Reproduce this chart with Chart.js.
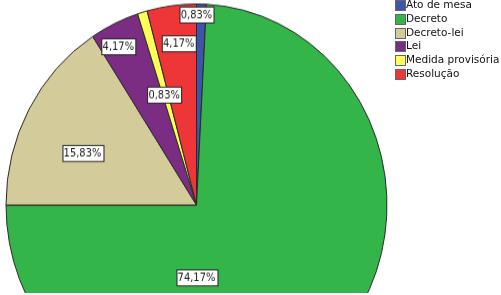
<!DOCTYPE html>
<html>
<head>
<meta charset="utf-8">
<script src="https://cdn.jsdelivr.net/npm/chart.js@4/dist/chart.umd.min.js"></script>
<style>
  html, body { margin:0; padding:0; background:#fff; width:501px; height:295px; overflow:hidden; }
  #clip { position:absolute; left:0; top:0; width:501px; height:293px; overflow:hidden; }
  #wrap { position:absolute; left:-4px; top:-6px; width:401px; height:400px; transform:scaleY(1.055); transform-origin:0 0; }
  #legend { position:absolute; left:395px; top:0px; font-family:"DejaVu Sans", sans-serif; font-size:10.5px; color:#111; }
  .row { position:relative; height:13.8px; }
  .sw { position:absolute; left:0; top:0px; width:9px; height:9px; border:1px solid #666; }
  .lt { position:absolute; left:11px; top:-2px; white-space:nowrap; }
</style>
</head>
<body>
<div id="clip">
  <div id="wrap"><canvas id="c" width="401" height="400"></canvas></div>
</div>
<div id="legend"></div>
<script>
const categories = ["Ato de mesa", "Decreto", "Decreto-lei", "Lei", "Medida provisória", "Resolução"];
const percents = [0.83, 74.17, 15.83, 4.17, 0.83, 4.17];
const percentLabels = ["0,83%", "74,17%", "15,83%", "4,17%", "0,83%", "4,17%"];
const colors = ["#3D55A8", "#33B54A", "#D4CB9B", "#7B2C83", "#FFFF55", "#EE3538"];
// label placement: fraction along the slice's angle, fraction of radius
const labelAngleFrac = [0.0, 0.663, 0.41, 0.37, 0.27, 0.56];
const labelRadiusFrac = [0.948, 0.36, 0.652, 0.89, 0.575, 0.81];
const SY = 1.055;

const leg = document.getElementById('legend');
categories.forEach((c, i) => {
  const r = document.createElement('div'); r.className = 'row';
  r.innerHTML = '<div class="sw" style="background:' + colors[i] + '"></div><div class="lt">' + c + '</div>';
  leg.appendChild(r);
});

const labelPlugin = {
  id: 'sliceLabels',
  afterDraw(chart) {
    const ctx = chart.ctx;
    const meta = chart.getDatasetMeta(0);
    ctx.save();
    ctx.font = '11px "DejaVu Sans Condensed", "DejaVu Sans", sans-serif';
    ctx.textAlign = 'center';
    ctx.textBaseline = 'middle';
    meta.data.forEach((arc, i) => {
      const p = arc.getProps(['x', 'y', 'startAngle', 'endAngle', 'outerRadius'], true);
      const a = p.startAngle + labelAngleFrac[i] * (p.endAngle - p.startAngle);
      const rr = p.outerRadius * labelRadiusFrac[i];
      const px = p.x + Math.cos(a) * rr;
      const py = p.y + Math.sin(a) * rr;
      ctx.save();
      ctx.translate(px, py);
      ctx.scale(1, 1 / SY);
      const t = percentLabels[i];
      const w = Math.round(ctx.measureText(t).width + 3);
      const h = 16;
      const x0 = Math.round(-w / 2) + 0.5, y0 = -h / 2 + 0.5;
      ctx.fillStyle = '#fff';
      ctx.fillRect(x0, y0, w, h);
      ctx.strokeStyle = '#222';
      ctx.lineWidth = 1;
      ctx.strokeRect(x0, y0, w, h);
      ctx.fillStyle = '#1a1a1a';
      ctx.fillText(t, 0, 1);
      ctx.restore();
    });
    ctx.restore();
  }
};

new Chart(document.getElementById('c'), {
  type: 'pie',
  data: {
    labels: categories,
    datasets: [{
      data: percents,
      backgroundColor: colors,
      borderColor: '#2a2a2a',
      borderWidth: 1
    }]
  },
  options: {
    responsive: false,
    animation: false,
    radius: 190.5,
    layout: { padding: 0 },
    plugins: { legend: { display: false }, tooltip: { enabled: false } }
  },
  plugins: [labelPlugin]
});
</script>
</body>
</html>
